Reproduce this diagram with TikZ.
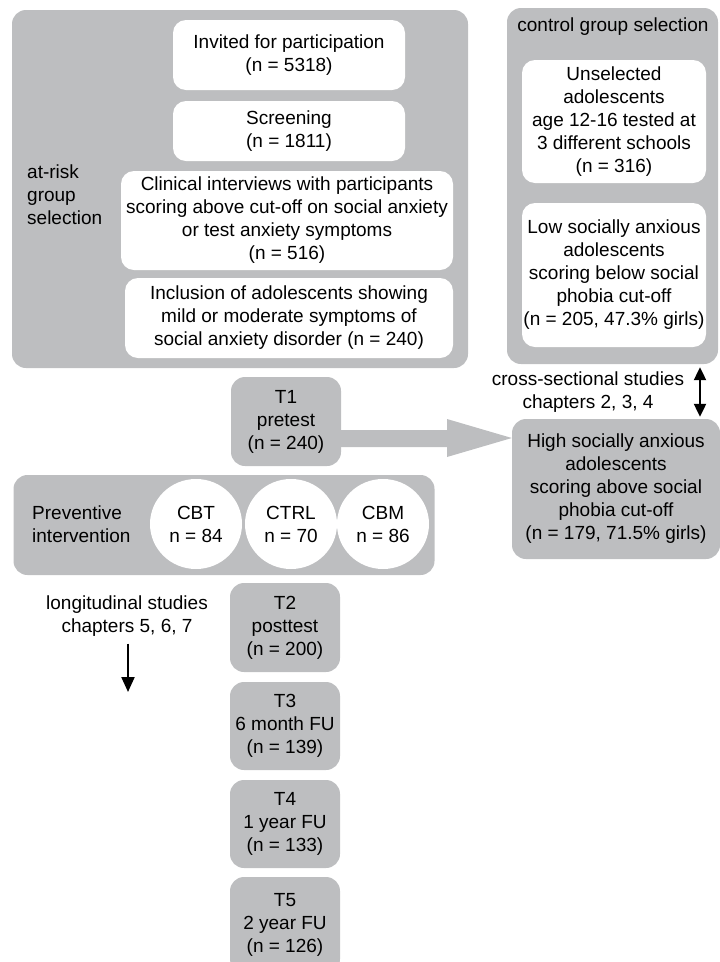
\documentclass[tikz,border=0pt]{standalone}
\usepackage{fontspec}
\setmainfont{Liberation Sans}
\usetikzlibrary{arrows.meta,shapes.geometric,calc}
\definecolor{boxgray}{RGB}{189,190,192}
\tikzset{
  graybox/.style={fill=boxgray, draw=none, rounded corners=14pt, align=center, inner sep=0pt},
  whitebox/.style={fill=white, draw=none, rounded corners=13pt, align=center, inner sep=0pt},
  oval/.style={ellipse, fill=white, draw=none, align=center, inner sep=0pt, minimum width=92pt, minimum height=90pt},
  lbl/.style={align=center, inner sep=0pt},
  arr/.style={line width=2.2pt, -{Triangle[length=15pt,width=13pt]}},
  dblarr/.style={line width=2.2pt, {Triangle[length=13pt,width=12pt]}-{Triangle[length=13pt,width=12pt]}},
}
\begin{document}
\begin{tikzpicture}[x=1pt,y=-1pt,font=\fontsize{19}{23}\selectfont]
\useasboundingbox (0,0) rectangle (720,962);
\clip (0,0) rectangle (720,962);
% at-risk group
\node[graybox, minimum width=456pt, minimum height=358pt] (atrisk) at (240,189) {};
\node[lbl, anchor=west, align=left] (atrisklbl) at (27,195) {at-risk\\group\\selection};
\node[whitebox, minimum width=232pt, minimum height=70pt] (inv) at (289,55) {Invited for participation\\(n = 5318)};
\node[whitebox, minimum width=232pt, minimum height=60pt] (scr) at (289,131) {Screening\\(n = 1811)};
\node[whitebox, minimum width=332pt, minimum height=99pt] (clin) at (287,220.5) {Clinical interviews with participants\\scoring above cut-off on social anxiety\\or test anxiety symptoms\\(n = 516)};
\node[whitebox, minimum width=328pt, minimum height=80pt] (incl) at (289,318) {Inclusion of adolescents showing\\mild or moderate symptoms of\\social anxiety disorder (n = 240)};
% control group
\node[graybox, minimum width=211pt, minimum height=356pt] (ctrl) at (612.5,186) {};
\node[lbl] (ctrllbl) at (613,27) {control group selection};
\node[whitebox, minimum width=184pt, minimum height=123pt] (unsel) at (614,121.5) {Unselected\\adolescents\\age 12-16 tested at\\3 different schools\\(n = 316)};
\node[whitebox, minimum width=184pt, minimum height=144pt] (low) at (614,275) {Low socially anxious\\adolescents\\scoring below social\\phobia cut-off\\(n = 205, 47.3\% girls)};
% high
\node[graybox, minimum width=208pt, minimum height=140pt] (high) at (616,489) {High socially anxious\\adolescents\\scoring above social\\phobia cut-off\\(n = 179, 71.5\% girls)};
\node[lbl] (cross) at (588,392) {cross-sectional studies\\chapters 2, 3, 4};
\coordinate (dx) at (700,0);
\draw[dblarr] ($(ctrl.south -| dx)+(0,3)$) -- ($(high.north -| dx)+(0,-2)$);
% T1 and big arrow
\node[graybox, minimum width=110pt, minimum height=89pt] (t1) at (286,421.5) {T1\\pretest\\(n = 240)};
\coordinate (ay) at (0,438);
\fill[boxgray] (t1.east |- 0,430) -- (447,430) -- (447,419) -- (high.west |- ay) -- (447,457) -- (447,447) -- (t1.east |- 0,447) -- cycle;
% preventive intervention
\node[graybox, minimum width=421pt, minimum height=100pt] (prev) at (224,525) {};
\node[lbl, anchor=west, align=left] (prevlbl) at (32,524.5) {Preventive\\intervention};
\node[oval] (cbt) at (196,524) {CBT\\n = 84};
\node[oval] (ctl) at (291,524) {CTRL\\n = 70};
\node[oval] (cbm) at (383,524) {CBM\\n = 86};
% follow-ups
\node[graybox, minimum width=110pt, minimum height=89pt] (t2) at (285,627.5) {T2\\posttest\\(n = 200)};
\node[graybox, minimum width=110pt, minimum height=88pt] (t3) at (285,726) {T3\\6 month FU\\(n = 139)};
\node[graybox, minimum width=110pt, minimum height=88pt] (t4) at (285,824) {T4\\1 year FU\\(n = 133)};
\node[graybox, minimum width=110pt, minimum height=96pt] (t5) at (285,925) {T5\\2 year FU\\(n = 126)};
\node[lbl] (long) at (127,616) {longitudinal studies\\chapters 5, 6, 7};
\coordinate (lend) at (128,692);
\draw[arr] ($(long.south -| lend)+(0,7)$) -- (lend);
\end{tikzpicture}
\end{document}
